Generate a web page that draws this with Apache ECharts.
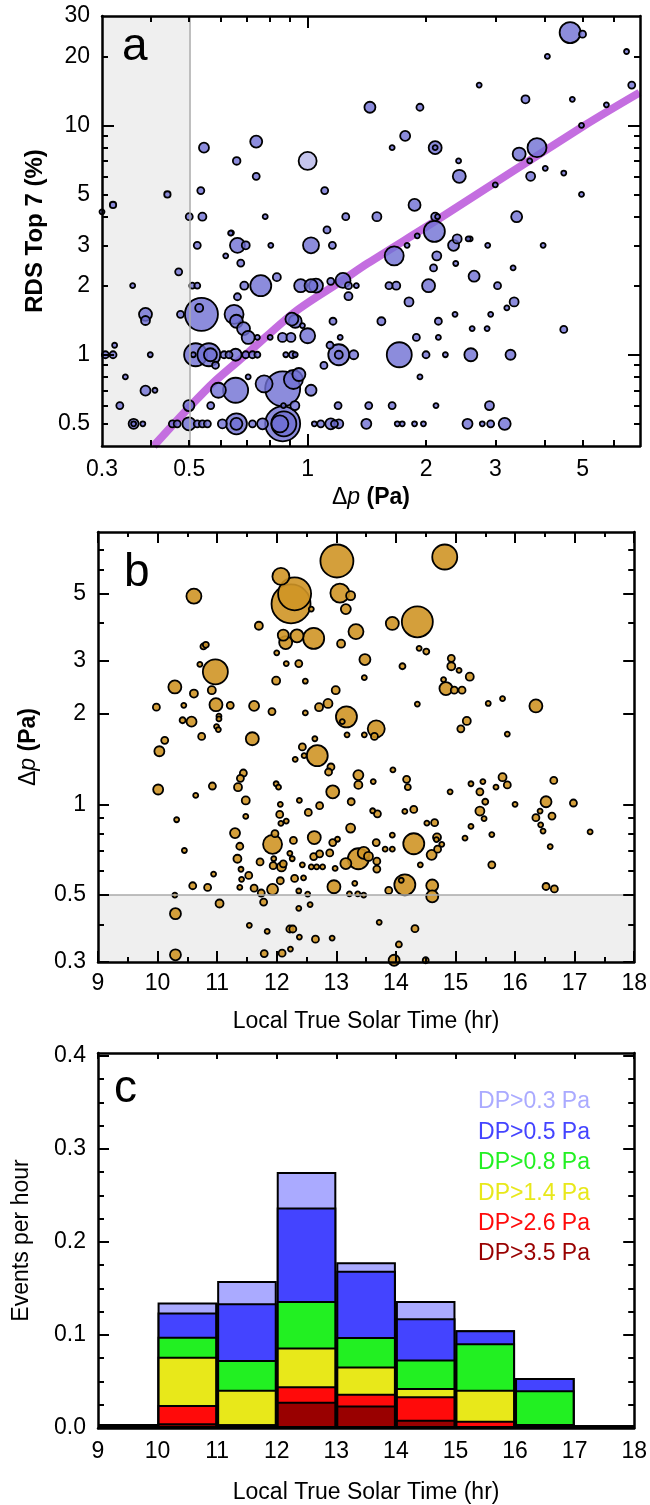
<!DOCTYPE html>
<html>
<head>
<meta charset="utf-8">
<script src="https://cdn.jsdelivr.net/npm/echarts/dist/echarts.min.js"></script>
<style>
  html, body { margin: 0; padding: 0; background: #fff; }
  #chart { width: 650px; height: 1505px; }
</style>
</head>
<body>
<div id="chart"></div>
<script>
// ---------- Panel a: RDS top-7 signal vs pressure drop, [Δp (Pa), RDS (%), marker weight] ----------
const panelA = [
  [0.30,4.2,2],[0.32,4.5,2.7],[0.44,5.0,2.7],[0.50,4.0,3],[0.54,4.0,3.5],[0.535,5.2,3],[0.545,8.0,4.5],
  [0.66,7.0,3.3],[0.74,8.5,5.5],[0.74,6.0,3],[0.78,4.0,2],[0.64,3.4,2],
  [2.73,15,2],[1.44,12,5],[1.93,12,3],[1.77,9.0,4.5],[1.64,8.0,2],[2.11,8.0,6],[2.11,8.0,2],[2.42,7.0,2],
  [2.43,6.0,6],[1.105,5.2,3],[1.25,4.0,3],[1.5,4.0,4],[1.87,4.5,5.5],[2.11,4.0,3.5],[2.14,4.0,2],[2.1,3.45,10],
  [3.0,5.5,2],[3.45,7.5,6],[3.4,4.0,5],[1.12,3.5,3],
  [4.65,25.4,10],[5.0,25,3],[4.07,20,2],[6.47,21,2],[6.67,15,3],[3.58,13,3.5],[4.71,13,2],[5.75,12.3,2],
  [4.97,10,2],[3.83,8.0,9],[3.67,7.0,2],[3.69,6.0,4],[4.02,6.5,2],[4.48,6.2,2],[4.97,5.0,2],[3.97,3.0,2],
  [2.87,3.0,2],[2.59,3.2,2],[2.4,3.2,4],[2.35,3.0,5],[2.13,2.7,4],[1.9,3.3,2],[1.79,3.0,2],
  [1.02,3.0,7.5],[1.156,3.0,3],[2.56,3.2,2],[1.66,2.7,9],[2.38,2.5,2],[2.09,2.39,3],[2.65,2.2,5],[3.33,2.39,2],
  [0.96,2.0,6],[1.02,2.0,6],[1.05,2.0,6.5],[1.145,2.09,3],[1.23,2.11,7],[1.27,2.0,3],[1.33,2.0,2],[1.27,1.8,3.5],
  [1.61,2.0,3],[1.68,2.0,3.5],[2.03,2.0,6],[3.04,2.0,3],[1.81,1.7,4],[3.35,1.7,4],[3.21,1.6,2],[2.37,1.5,2],
  [2.92,1.5,2],[1.54,1.4,3.5],[2.15,1.4,3],[0.93,1.4,6],[1.16,1.4,3],[0.97,1.34,2],[2.62,1.3,2],[2.86,1.3,2],
  [4.48,1.29,3],[1.0,1.21,7],[1.21,1.19,2],[1.89,1.19,3],[2.15,1.19,2],
  [1.2,1.0,10],[1.2,1.0,3.5],[1.14,1.1,3],[1.31,1.0,4],[1.71,1.0,12],[2.0,1.0,3],[2.24,1.0,2],[2.6,1.0,6],
  [3.28,1.0,4.5],[0.93,1.0,2],[1.1,0.898,3],[1.93,0.8,2],[1.02,0.7,5],
  [1.195,0.6,3],[1.43,0.6,3],[1.64,0.6,3],[2.12,0.6,2],[2.9,0.6,4],
  [1.04,0.5,2],[1.08,0.5,3],[1.145,0.5,5],[1.17,0.5,3],[1.2,0.5,4],[1.41,0.5,4.5],[1.69,0.5,2],[1.74,0.5,2],
  [1.87,0.5,2],[1.97,0.5,2],[2.55,0.5,4.5],[2.78,0.5,2],[2.92,0.5,3],[3.17,0.5,5.5],
  [0.524,3.0,3],[0.663,3.0,7],[0.696,3.0,3.5],[0.637,3.39,2],[0.619,2.7,2],[0.676,2.51,3],[0.806,3.0,2],
  [0.47,2.3,3],[0.359,2.0,2],[0.509,2.0,2.5],[0.524,2.0,2.5],[0.69,2.0,3.5],[0.76,2.0,10],[0.835,2.18,3.5],
  [0.663,1.79,3],[0.387,1.5,6],[0.387,1.41,4],[0.475,1.5,3],[0.537,1.5,16],[0.53,1.6,3.5],[0.65,1.5,9],
  [0.659,1.4,6],[0.687,1.3,6],[0.706,1.19,6],[0.745,1.19,2],[0.803,1.19,2],[0.863,1.19,4],[0.907,1.19,4],
  [0.912,1.43,6],[0.323,1.1,2],[0.306,1.0,3],[0.32,1.0,3],[0.398,1.0,2],[0.519,1.0,11],[0.512,1.0,2],
  [0.561,1.0,11],[0.566,1.0,6],[0.583,0.9,3],[0.613,1.0,3],[0.631,1.0,3],[0.656,1.0,5.5],[0.696,1.0,3],
  [0.724,1.0,3],[0.745,1.0,2.5],[0.88,1.0,2],[0.915,1.0,3],
  [0.344,0.8,2],[0.387,0.697,4.5],[0.409,0.7,2],[0.333,0.6,3],[0.361,0.5,4.5],[0.361,0.5,2],[0.381,0.5,2],
  [0.453,0.5,3],[0.466,0.5,3],[0.499,0.5,6],[0.524,0.5,3],[0.54,0.5,3],[0.556,0.5,3],[0.607,0.5,4],
  [0.659,0.5,10],[0.659,0.5,5.5],[0.724,0.5,3],[0.768,0.5,5],[0.864,0.5,17],[0.87,0.5,12],[0.85,0.5,8],
  [0.499,0.6,5],[0.567,0.6,3],[0.593,0.7,7],[0.656,0.7,12],[0.706,0.8,2],[0.775,0.747,8],[0.864,0.71,17],
  [0.92,0.78,9],[0.95,0.82,6],[0.868,0.6,2],[0.928,0.6,4]
];
// paler markers in panel a
const panelALight = [[1.0,7.0,8.5]];

// power-law fit drawn through panel a
const fitDp  = [0.406, 0.5, 0.583, 0.71, 0.934, 1.226, 1.42, 2.15, 5.06, 6.98];
const fitRds = [0.4, 0.59, 0.77, 1.03, 1.55, 2.11, 2.5, 3.9, 10.0, 13.9];

// ---------- Panel b: pressure drop vs local true solar time, [LTST (hr), Δp (Pa), marker weight] ----------
const panelB = [
  [10.61,4.9,7],[12.07,5.7,8],[12.24,4.62,19],[12.3,4.99,16],[12.58,4.44,2],[13.01,6.41,16],[13.06,5.02,9],
  [13.24,4.92,4],[13.16,4.44,4.5],[14.82,6.61,12],[14.36,4.03,15],[13.94,3.98,6],[13.33,3.74,7],[13.08,3.41,3.5],
  [12.62,3.55,10],[12.34,3.62,6],[12.11,3.64,5],[12.15,3.44,6],[11.7,3.91,3.5],[10.77,3.34,2.5],[10.81,3.38,2.5],
  [10.71,2.91,2],[10.97,2.75,12],[10.29,2.45,6],[10.61,2.33,3.5],[10.91,2.39,3.5],[9.98,2.1,3],[10.44,2.13,2],
  [10.42,1.9,2.5],[10.57,1.88,4.5],[10.98,2.14,6],[11.22,2.13,3],[11.03,1.96,2],[11.03,1.92,2],[10.99,1.81,2],
  [11.02,1.77,2],[10.74,1.68,3],[10.12,1.63,3],[11.62,2.12,4.5],[11.92,2.03,3],[11.99,2.57,3.5],[12.0,3.18,2],
  [12.16,2.93,2],[12.37,2.93,3],[12.48,2.56,2],[12.48,2.01,2],[12.71,2.1,3.5],[12.86,2.16,4],[12.99,2.39,3.5],
  [13.17,1.95,10],[13.1,1.88,2],[13.18,1.7,2],[13.47,1.7,2],[13.67,1.78,8],[13.64,1.68,3],[13.47,2.63,2],
  [13.48,3.02,5],[14.11,2.87,2.5],[14.39,3.29,2],[14.51,3.21,2.5],[14.36,2.15,2],[14.93,3.05,3],[14.93,2.87,3.5],
  [15.06,2.78,2],[15.24,2.65,3.5],[14.8,2.59,2],[14.84,2.42,6],[14.98,2.39,3],[15.11,2.39,3],[15.55,2.16,2],
  [15.79,2.24,2],[15.19,1.89,3.5],[15.09,1.78,3],[15.87,1.71,2],[11.59,1.65,6],[12.64,1.65,2],[16.35,2.12,6],
  [10.03,1.5,4.5],[12.43,1.55,3],[12.46,1.45,2],[12.31,1.41,2],[12.68,1.45,10],[12.91,1.33,3],[12.87,1.28,3],
  [13.37,1.25,4.5],[13.37,1.16,3.5],[13.95,1.3,2],[13.62,1.19,2],[14.18,1.21,3],[14.2,1.14,2.5],[14.91,1.1,2],
  [15.26,1.17,2],[15.46,1.19,2],[15.68,1.14,2],[15.79,1.23,3.5],[15.87,1.16,3],[15.41,1.1,3],[15.5,1.02,2.5],
  [15.41,0.95,4],[15.48,0.896,2],[15.26,0.845,2],[15.16,0.772,2],[15.61,0.794,2],[15.61,0.63,3],
  [16.65,1.2,3],[16.52,1.02,5],[16.98,1.01,3],[16.0,1.0,2],[16.35,0.903,3],[16.42,0.95,2],[16.62,0.914,3],
  [16.43,0.855,2],[16.47,0.815,2],[17.26,0.81,2],[16.59,0.724,2],[16.52,0.534,3],[16.66,0.524,3],
  [10.01,1.12,4.5],[10.64,1.07,2],[10.92,1.15,3],[10.32,0.889,2],[10.45,0.703,2],[10.94,0.587,2],[10.59,0.537,3],
  [10.84,0.53,3],[10.29,0.5,2],[10.3,0.434,5],[10.3,0.317,5],[11.04,0.469,3.5],[11.3,0.803,4.5],[11.44,1.27,3],
  [11.39,1.22,3],[11.35,1.14,3.5],[11.48,1.03,3.5],[11.48,0.912,2],[11.38,0.726,3],[11.34,0.66,3.5],[11.4,0.609,2],
  [11.41,0.564,2],[11.38,0.53,2],[11.53,0.581,3],[11.62,0.527,3],[11.54,0.397,2],[11.84,0.379,2],[11.78,0.474,3],
  [11.74,0.508,3],[11.72,0.644,3],[11.93,0.737,9],[11.93,0.522,5],[11.97,0.799,3],[11.95,0.66,2],[11.94,0.626,3],
  [12.08,0.62,4],[12.11,0.635,3],[12.06,0.558,3],[11.99,1.17,2],[12.03,1.14,2],[12.06,1.0,2],[12.05,0.926,3],
  [12.07,0.864,2],[12.16,0.88,2],[12.28,0.759,3],[12.22,0.688,2],[12.26,0.66,2],[12.3,0.568,3],[12.37,0.516,2],
  [12.45,0.57,2],[12.43,0.63,2],[12.52,0.504,2],[12.38,1.03,2],[12.53,0.94,3],[12.63,0.776,6],[12.72,0.99,3],
  [12.58,0.62,2],[12.67,0.62,2],[12.77,0.62,2],[12.62,0.671,3],[12.72,0.685,3],[12.89,0.69,3],[12.94,0.747,3],
  [13.02,0.766,2],[12.98,0.613,2],[12.96,0.533,6],[12.94,1.1,6],[12.37,0.452,2],[12.56,0.465,2],[12.22,0.386,3],
  [12.27,0.386,3],[12.38,0.363,2],[12.65,0.357,3],[12.93,0.36,2],[12.09,0.321,3],[12.23,0.331,2],[11.79,0.32,3],
  [13.16,0.636,5],[13.24,0.834,4],[13.25,1.02,3],[13.37,0.66,10],[13.46,0.69,5.5],[13.54,0.672,4],[13.31,0.547,2],
  [13.22,0.505,2],[13.36,0.505,2],[13.46,0.5,2],[13.61,0.952,2],[13.69,0.93,3],[13.67,0.747,3],[13.68,0.648,3],
  [13.68,0.61,3],[13.82,0.71,2],[13.94,0.71,2],[13.94,0.79,2],[13.88,0.518,3],[13.72,0.406,2],[14.05,0.343,2.5],
  [13.97,0.304,5],[14.15,0.541,10],[14.09,0.56,2],[14.15,0.947,2],[14.3,0.962,3],[14.3,0.74,10],[14.32,0.387,3],
  [14.41,0.63,2],[14.52,0.866,2],[14.65,0.869,3],[14.69,0.777,3.5],[14.68,0.764,2],[14.7,0.71,3],[14.77,0.737,2],
  [14.6,0.68,4.5],[14.61,0.538,5.5],[14.61,0.495,5.5],[14.5,0.304,2.5]
];

// ---------- Panel c: events per hour by LTST bin, one array per Δp threshold ----------
const hourBins = ['9-10','10-11','11-12','12-13','13-14','14-15','15-16','16-17','17-18'];
const dpOver03 = [0.004, 0.135, 0.158, 0.275, 0.178, 0.1365, 0.105, 0.0536, 0.003];
const dpOver05 = [0.004, 0.124, 0.134, 0.237, 0.169, 0.118, 0.105, 0.0536, 0.003];
const dpOver08 = [0.004, 0.098, 0.073, 0.1365, 0.0977, 0.0737, 0.091, 0.0406, 0.003];
const dpOver14 = [0.004, 0.0765, 0.041, 0.0865, 0.066, 0.043, 0.041, 0.0042, 0];
const dpOver26 = [0, 0.0247, 0.004, 0.0448, 0.0367, 0.034, 0.0077, 0, 0];
const dpOver35 = [0, 0.005, 0.004, 0.0282, 0.0243, 0.0088, 0, 0, 0];
const thresholdNames = ['DP>0.3 Pa','DP>0.5 Pa','DP>0.8 Pa','DP>1.4 Pa','DP>2.6 Pa','DP>3.5 Pa'];
const thresholdColors = ['#aaaaff','#4444ff','#22f022','#e8e81a','#ff0a0a','#990000'];

// ---------- tick positions and labels ----------
const aXLabels = [0.3, 0.5, 1, 2, 3, 5];
const aXMinor  = [0.4, 0.5, 0.6, 0.7, 0.8, 0.9, 2, 3, 4, 5, 6];
const aYLabels = [0.5, 1, 2, 3, 5, 10, 20, 30];
const aYMinor  = [0.5, 0.6, 0.7, 0.8, 0.9, 2, 3, 4, 5, 6, 7, 8, 9, 20];
const bXLabels = [9, 10, 11, 12, 13, 14, 15, 16, 17, 18];
const bXHalf   = [9.5, 10.5, 11.5, 12.5, 13.5, 14.5, 15.5, 16.5, 17.5];
const bYLabels = [0.3, 0.5, 1, 2, 3, 5];
const bYMinor  = [0.4, 0.6, 0.7, 0.8, 0.9, 4, 6, 7];
const cYLabels = [0.0, 0.1, 0.2, 0.3, 0.4];
const cYMinor  = [0.025,0.05,0.075,0.125,0.15,0.175,0.225,0.25,0.275,0.325,0.35,0.375];

const FONT = 'Liberation Sans, Arial, sans-serif';
const lg = Math.log10;
const fmtLog = v => String(parseFloat(Math.pow(10, v).toPrecision(2)));

// one axis: frame line, inward ticks at given values, optional labels
function axis(o) {
  return {
    type: 'value', gridIndex: o.g, position: o.pos, min: o.min, max: o.max, z: 10,
    axisLine: { show: !!o.line, onZero: false, lineStyle: { color: '#000', width: 2.5 } },
    axisTick: o.ticks ? { show: true, inside: true, length: o.len, customValues: o.ticks,
                          lineStyle: { color: '#000', width: 2 } } : { show: false },
    axisLabel: o.labels ? { show: true, customValues: o.labels, formatter: o.fmt, margin: o.margin,
                            fontSize: 23, fontFamily: FONT, color: '#000' } : { show: false },
    splitLine: { show: false },
    name: o.name || '', nameLocation: 'middle', nameGap: o.gap || 0, nameTextStyle: o.nts || {}
  };
}

const dpName = '{d|Δ}{p|p}{u| (Pa)}';
const dpRich = { rich: {
  d: { fontSize: 23, fontFamily: FONT, color: '#000' },
  p: { fontSize: 23, fontFamily: FONT, fontStyle: 'italic', color: '#000' },
  u: { fontSize: 23, fontFamily: FONT, fontWeight: 'bold', color: '#000' } } };
const plainName = { fontSize: 23, fontFamily: FONT, color: '#000' };

const axMinA = lg(0.3), axMaxA = lg(7), ayMinA = lg(0.4), ayMaxA = lg(30);
const byMin = lg(0.3), byMax = lg(8);
const cyMax = 0.403;

const xAxes = [
  // panel a (0-3)
  axis({ g: 0, pos: 'bottom', min: axMinA, max: axMaxA, line: true, ticks: aXMinor.map(lg), len: 6,
         labels: aXLabels.map(lg), fmt: fmtLog, margin: 12, name: dpName, gap: 40, nts: dpRich }),
  axis({ g: 0, pos: 'bottom', min: axMinA, max: axMaxA, ticks: [0], len: 12 }),
  axis({ g: 0, pos: 'top', min: axMinA, max: axMaxA, line: true, ticks: aXMinor.map(lg), len: 6 }),
  axis({ g: 0, pos: 'top', min: axMinA, max: axMaxA, ticks: [0], len: 12 }),
  // panel b (4-7)
  axis({ g: 1, pos: 'bottom', min: 9, max: 18, line: true, ticks: bXLabels, len: 11,
         labels: bXLabels, fmt: v => String(Math.round(v)), margin: 10,
         name: 'Local True Solar Time (hr)', gap: 48, nts: plainName }),
  axis({ g: 1, pos: 'bottom', min: 9, max: 18, ticks: bXHalf, len: 5 }),
  axis({ g: 1, pos: 'top', min: 9, max: 18, line: true, ticks: bXLabels, len: 11 }),
  axis({ g: 1, pos: 'top', min: 9, max: 18, ticks: bXHalf, len: 5 }),
  // panel c (8-10)
  axis({ g: 2, pos: 'bottom', min: 9, max: 18, line: true,
         labels: bXLabels, fmt: v => String(Math.round(v)), margin: 12,
         name: 'Local True Solar Time (hr)', gap: 53, nts: plainName }),
  axis({ g: 2, pos: 'top', min: 9, max: 18, line: true, ticks: bXLabels, len: 6 }),
  { type: 'category', gridIndex: 2, data: hourBins, show: false, boundaryGap: true }
];

const yAxes = [
  // panel a (0-3)
  axis({ g: 0, pos: 'left', min: ayMinA, max: ayMaxA, line: true, ticks: aYMinor.map(lg), len: 6,
         labels: aYLabels.map(lg), fmt: fmtLog, margin: 12, name: 'RDS Top 7 (%)', gap: 50,
         nts: { fontSize: 24, fontFamily: FONT, fontWeight: 'bold', color: '#000' } }),
  axis({ g: 0, pos: 'left', min: ayMinA, max: ayMaxA, ticks: [0, 1], len: 12 }),
  axis({ g: 0, pos: 'right', min: ayMinA, max: ayMaxA, line: true, ticks: aYMinor.map(lg), len: 6 }),
  axis({ g: 0, pos: 'right', min: ayMinA, max: ayMaxA, ticks: [0, 1], len: 12 }),
  // panel b (4-7)
  axis({ g: 1, pos: 'left', min: byMin, max: byMax, line: true, ticks: bYLabels.map(lg), len: 11,
         labels: bYLabels.map(lg), fmt: fmtLog, margin: 12, name: dpName, gap: 58, nts: dpRich }),
  axis({ g: 1, pos: 'left', min: byMin, max: byMax, ticks: bYMinor.map(lg), len: 6 }),
  axis({ g: 1, pos: 'right', min: byMin, max: byMax, line: true, ticks: bYLabels.map(lg), len: 11 }),
  axis({ g: 1, pos: 'right', min: byMin, max: byMax, ticks: bYMinor.map(lg), len: 6 }),
  // panel c (8-11)
  axis({ g: 2, pos: 'left', min: 0, max: cyMax, line: true, ticks: cYLabels, len: 11,
         labels: cYLabels, fmt: v => v.toFixed(1), margin: 12, name: 'Events per hour', gap: 65, nts: plainName }),
  axis({ g: 2, pos: 'left', min: 0, max: cyMax, ticks: cYMinor, len: 6 }),
  axis({ g: 2, pos: 'right', min: 0, max: cyMax, line: true, ticks: cYLabels, len: 11 }),
  axis({ g: 2, pos: 'right', min: 0, max: cyMax, ticks: cYMinor, len: 6 })
];

// bubbles drawn largest first so the small ones stay visible on top
function bubbleSeries(pts, xi, yi, fill, mapX) {
  const sorted = pts.slice().sort((p, q) => q[2] - p[2]);
  return {
    type: 'scatter', xAxisIndex: xi, yAxisIndex: yi, z: 4, silent: true,
    data: sorted.map(p => [mapX(p[0]), lg(p[1]), p[2]]),
    symbolSize: v => 2 * v[2] + 1,
    itemStyle: { color: fill, borderColor: '#000', borderWidth: 1.8, opacity: 1 }
  };
}

const series = [
  // panel a: shaded Δp < 0.5 Pa region, its edge, and the fitted curve
  {
    type: 'line', xAxisIndex: 0, yAxisIndex: 0, z: 2, silent: true, smooth: 0.3, symbol: 'none',
    data: fitDp.map((x, i) => [lg(x), lg(fitRds[i])]),
    lineStyle: { color: '#c46ee0', width: 8 },
    markArea: { silent: true, itemStyle: { color: '#efefef' },
                data: [[{ xAxis: lg(0.3) }, { xAxis: lg(0.5) }]] },
    markLine: { silent: true, symbol: 'none', label: { show: false },
                lineStyle: { color: '#aaaaaa', width: 1.5, type: 'solid' },
                data: [{ xAxis: lg(0.5) }] }
  },
  bubbleSeries(panelA, 0, 0, 'rgba(111,111,211,0.8)', lg),
  bubbleSeries(panelALight, 0, 0, 'rgba(111,111,211,0.4)', lg),
  // panel b: shaded Δp < 0.5 Pa band and its edge
  {
    type: 'line', xAxisIndex: 4, yAxisIndex: 4, z: 2, silent: true, symbol: 'none', data: [],
    markArea: { silent: true, itemStyle: { color: '#efefef' },
                data: [[{ yAxis: lg(0.3) }, { yAxis: lg(0.5) }]] },
    markLine: { silent: true, symbol: 'none', label: { show: false },
                lineStyle: { color: '#aaaaaa', width: 1.5, type: 'solid' },
                data: [{ yAxis: lg(0.5) }] }
  },
  bubbleSeries(panelB, 4, 4, 'rgba(207,149,38,0.9)', t => t)
];

// panel c: one bar per threshold, overlapping in each hour bin (largest drawn first)
[dpOver03, dpOver05, dpOver08, dpOver14, dpOver26, dpOver35].forEach((vals, i) => {
  series.push({
    type: 'bar', name: thresholdNames[i], xAxisIndex: 10, yAxisIndex: 8, z: 3 + i * 0.01, silent: true,
    barWidth: '100%', barGap: '-100%', barCategoryGap: 0,
    data: vals.map(v => (v > 0 ? v : '-')),
    itemStyle: { color: thresholdColors[i], borderColor: '#000', borderWidth: 2 }
  });
});

const option = {
  animation: false,
  backgroundColor: '#fff',
  grid: [
    { left: 102, top: 16, width: 538, height: 430 },
    { left: 98, top: 532, width: 540, height: 430 },
    { left: 98, top: 1053, width: 540, height: 381 }
  ],
  xAxis: xAxes,
  yAxis: yAxes,
  legend: {
    orient: 'vertical', right: 49, top: 1085, align: 'right', selectedMode: false,
    itemWidth: 0, itemHeight: 0, itemGap: 6.4, icon: 'rect',
    textStyle: { fontSize: 23, fontFamily: FONT, lineHeight: 24 },
    data: thresholdNames.map((n, i) => ({ name: n, textStyle: { color: thresholdColors[i] } }))
  },
  graphic: [
    { type: 'text', left: 122, top: 24, z: 20, style: { text: 'a', font: '46px ' + FONT, fill: '#000' } },
    { type: 'text', left: 124, top: 550, z: 20, style: { text: 'b', font: '46px ' + FONT, fill: '#000' } },
    { type: 'text', left: 114, top: 1066, z: 20, style: { text: 'c', font: '46px ' + FONT, fill: '#000' } }
  ],
  series: series
};

const chart = echarts.init(document.getElementById('chart'), null, { renderer: 'canvas' });
chart.setOption(option);
</script>
</body>
</html>
